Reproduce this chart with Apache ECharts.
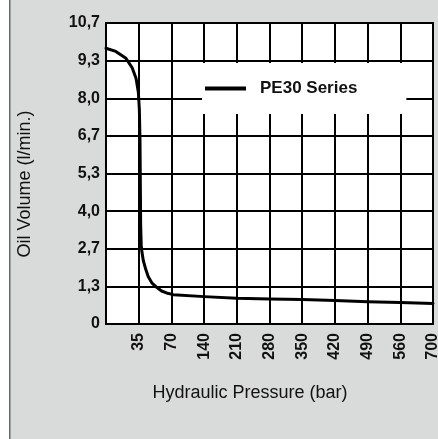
<!DOCTYPE html>
<html>
<head>
<meta charset="utf-8">
<script src="https://cdn.jsdelivr.net/npm/echarts@6/dist/echarts.min.js"></script>
<style>
  html, body { margin: 0; padding: 0; background: #d9dbdb; overflow: hidden; }
  #chart { width: 438px; height: 439px; }
</style>
</head>
<body>
<div id="chart"></div>
<script>
// Tick labels of the x axis (pressure in bar), one per grid column line
var xTickLabels = ['', '35', '70', '140', '210', '280', '350', '420', '490', '560', '700'];
// Tick labels of the y axis (oil volume in l/min)
var yTickLabels = ['0', '1,3', '2,7', '4,0', '5,3', '6,7', '8,0', '9,3', '10,7'];
var yMax = 32 / 3;
var yStep = 4 / 3;
// Curve: position along the pressure axis (in grid columns) and oil volume
var curveX = [0, 0.3, 0.6, 0.8, 0.92, 0.99, 1.02, 1.04, 1.05, 1.06, 1.08, 1.14, 1.22, 1.29, 1.4, 1.55, 1.7, 1.85, 2.06, 3, 4, 5, 6, 7, 8, 9, 10];
var curveY = [9.77, 9.66, 9.43, 9.08, 8.7, 8.2, 7.6, 6.5, 5.0, 3.5, 2.7, 2.25, 1.92, 1.68, 1.46, 1.3, 1.17, 1.1, 1.04, 0.97, 0.91, 0.89, 0.87, 0.83, 0.79, 0.76, 0.73];
var seriesName = 'PE30 Series';
var xTitle = 'Hydraulic Pressure (bar)';
var yTitle = 'Oil Volume (l/min.)';

var chart = echarts.init(document.getElementById('chart'));
var data = curveX.map(function (x, i) { return [x, curveY[i]]; });
var FONT = 'Liberation Sans, Arial, sans-serif';

chart.setOption({
  backgroundColor: '#d9dbdb',
  animation: false,
  grid: {
    left: 106, top: 23, right: 5, bottom: 115,
    containLabel: false, outerBoundsMode: 'none',
    show: true, backgroundColor: '#ffffff', borderColor: '#000', borderWidth: 2
  },
  xAxis: {
    type: 'value', min: 0, max: 10, interval: 1,
    axisLine: { show: true, lineStyle: { color: '#000', width: 2 } },
    axisTick: { show: false },
    splitLine: { show: true, lineStyle: { color: '#000', width: 2 } },
    axisLabel: {
      rotate: 90, margin: 9,
      fontFamily: FONT, fontWeight: 'bold', fontSize: 16, color: '#111',
      formatter: function (v) { return xTickLabels[Math.round(v)] || ''; }
    }
  },
  yAxis: {
    type: 'value', min: 0, max: yMax, interval: yStep,
    axisLine: { show: true, lineStyle: { color: '#000', width: 2 } },
    axisTick: { show: false },
    splitLine: { show: true, lineStyle: { color: '#000', width: 2 } },
    axisLabel: {
      margin: 6,
      fontFamily: FONT, fontWeight: 'bold', fontSize: 16, color: '#111',
      formatter: function (v) { return yTickLabels[Math.round(v / yStep)] || ''; }
    }
  },
  legend: {
    show: true, left: 202, top: 63,
    backgroundColor: '#ffffff',
    padding: [17, 49, 17, 3],
    icon: 'rect', itemWidth: 41, itemHeight: 4,
    textStyle: { fontFamily: FONT, fontWeight: 'bold', fontSize: 17, color: '#111', padding: [0, 0, 0, 9] },
    data: [{ name: seriesName, itemStyle: { color: '#000' } }]
  },
  graphic: [
    { type: 'rect', left: 0, top: 0, shape: { width: 9, height: 439 }, style: { fill: '#ffffff' }, silent: true },
    { type: 'rect', left: 9, top: 0, shape: { width: 1.5, height: 439 }, style: { fill: '#666666' }, silent: true },
    { type: 'text', x: 25, y: 184, rotation: Math.PI / 2, silent: true,
      style: { text: yTitle, font: '18px ' + FONT, fill: '#111', align: 'center', verticalAlign: 'middle' } },
    { type: 'text', x: 250, y: 393, silent: true,
      style: { text: xTitle, font: '18px ' + FONT, fill: '#111', align: 'center', verticalAlign: 'middle' } }
  ],
  series: [{
    name: seriesName, type: 'line', data: data,
    showSymbol: false, smooth: false,
    lineStyle: { color: '#000', width: 3, join: 'round', cap: 'round' },
    itemStyle: { color: '#000' }
  }]
});
</script>
</body>
</html>
